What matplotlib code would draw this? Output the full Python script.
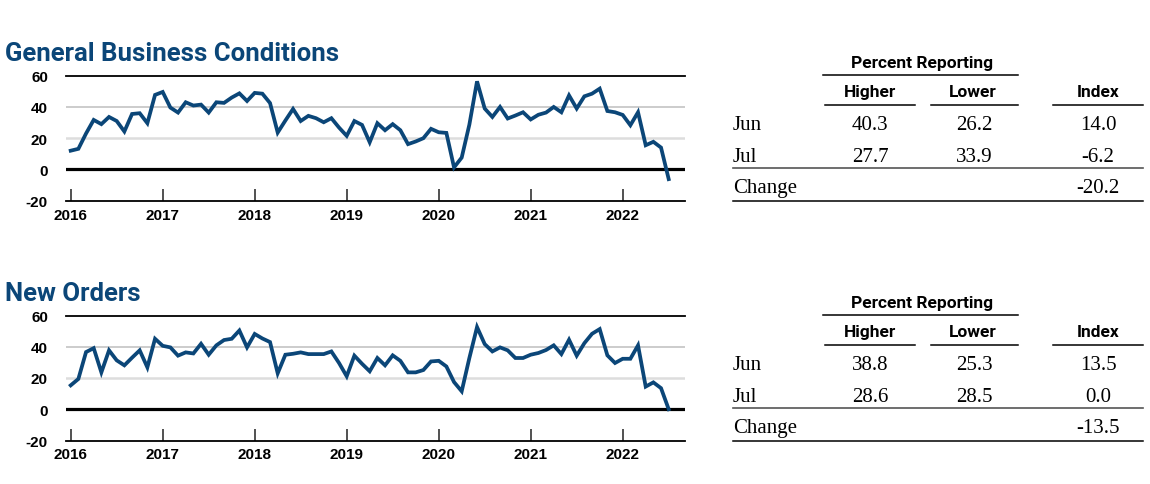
import numpy as np
import matplotlib
matplotlib.use('Agg')
import matplotlib.pyplot as plt
from matplotlib import font_manager
from matplotlib.lines import Line2D

# monthly index values, Jan 2016 - Jul 2022
general_business = [
    12.0, 13.2, 23.0, 31.7, 29.0, 33.6, 31.0, 24.3, 35.5, 36.0, 29.6, 47.7,
    49.6, 39.6, 36.4, 43.0, 40.9, 41.5, 36.4, 43.0, 42.6, 46.0, 48.7, 43.8,
    49.0, 48.5, 42.5, 23.6, 31.3, 38.7, 31.0, 34.3, 32.8, 30.2, 32.8, 26.8,
    21.5, 31.0, 28.5, 17.4, 29.6, 25.1, 29.0, 25.1, 16.2, 17.9, 20.0, 26.0,
    23.8, 23.4, 1.3, 7.6, 28.7, 56.4, 39.0, 33.6, 40.0, 32.6, 34.5, 36.6,
    32.0, 35.0, 36.4, 40.0, 36.6, 47.4, 39.0, 46.8, 48.5, 51.7, 37.4, 36.6,
    34.9, 28.3, 36.6, 15.5, 17.7, 14.0, -6.2,
]
new_orders = [
    15.3, 19.4, 36.6, 39.1, 23.6, 37.7, 31.3, 28.1, 33.0, 37.7, 26.8, 45.1,
    40.6, 39.6, 34.3, 36.4, 35.7, 41.9, 34.9, 40.9, 44.3, 45.1, 50.4, 39.6,
    48.2, 45.3, 43.0, 23.0, 34.9, 35.5, 36.4, 35.3, 35.3, 35.3, 37.0, 29.6,
    21.1, 34.3, 29.1, 24.3, 32.8, 28.1, 34.5, 31.0, 23.6, 23.6, 25.1, 30.6,
    31.0, 27.4, 17.4, 11.5, 32.8, 52.6, 41.7, 37.0, 39.6, 37.7, 32.8, 32.8,
    34.9, 36.0, 37.9, 40.9, 35.3, 44.5, 34.3, 42.3, 48.3, 51.3, 34.5, 29.6,
    32.3, 32.3, 40.9, 14.5, 17.2, 13.5, 0.0,
]
start_year = 2016
year_ticks = [2016, 2017, 2018, 2019, 2020, 2021, 2022]
y_ticks = [-20, 0, 20, 40, 60]

# table values
row_labels = ['Jun', 'Jul', 'Change']
gbc_higher = ['40.3', '27.7']
gbc_lower = ['26.2', '33.9']
gbc_index = ['14.0', '-6.2', '-20.2']
no_higher = ['38.8', '28.6']
no_lower = ['25.3', '28.5']
no_index = ['13.5', '0.0', '-13.5']

W, H = 1150, 485
BLUE = '#0b4678'

installed = {f.name for f in font_manager.fontManager.ttflist}
if 'Liberation Sans Narrow' in installed:
    narrow = 'Liberation Sans Narrow'
    title_size, head_size = 21, 14
else:
    narrow = 'Roboto'
    title_size, head_size = 18.5, 12.5
sans = 'Liberation Sans'
serif = 'Liberation Serif'

fig = plt.figure(figsize=(W / 100, H / 100), dpi=100)


def px(x, y):
    # pixel position -> figure fraction
    return x / W, 1 - y / H


def hline(x0, x1, y, color='black', lw=1.0):
    (a, b), (c, _) = px(x0, y), px(x1, y)
    fig.add_artist(Line2D([a, c], [b, b], color=color, lw=lw, transform=fig.transFigure))


def draw_chart(values, top_px, title, title_base):
    left, right = 66, 685
    bottom = top_px + 125
    ax = fig.add_axes([left / W, 1 - bottom / H, (right - left) / W, 125 / H])
    x = start_year + np.arange(len(values)) / 12.0
    ax.axhline(40, color='#c4c4c4', lw=1.2, zorder=1)
    ax.axhline(20, color='#dddddd', lw=1.8, zorder=1)
    ax.axhline(0, color='black', lw=2.3, zorder=2)
    ax.plot(x, values, color=BLUE, lw=2.7, solid_joinstyle='miter', zorder=3, clip_on=False)
    ax.set_xlim(start_year - 4.7 / 92, start_year + (right - 70.7) / 92)
    ax.set_ylim(-20, 60)
    for s in ['left', 'right']:
        ax.spines[s].set_visible(False)
    ax.spines['top'].set_linewidth(1.3)
    ax.spines['bottom'].set_linewidth(1.3)
    ax.set_xticks(year_ticks)
    ax.set_xticklabels([str(y) for y in year_ticks], fontfamily=sans, fontweight='bold', fontsize=11)
    ax.set_yticks(y_ticks)
    ax.set_yticklabels([str(v) for v in y_ticks], fontfamily=sans, fontweight='bold', fontsize=11)
    ax.tick_params(axis='x', direction='in', length=9, width=1.2, color='#333333', pad=5)
    ax.tick_params(axis='y', length=0, pad=13)
    ax.set_facecolor('none')
    tx, ty = px(5, title_base)
    fig.text(tx, ty, title, fontfamily=narrow, fontweight='bold', fontsize=title_size,
             color=BLUE, ha='left', va='baseline')


def draw_table(off, higher, lower, index):
    def t(x, y, s, **kw):
        a, b = px(x, y + off)
        fig.text(a, b, s, ha='center', va='baseline', **kw)

    head = dict(fontfamily=narrow, fontweight='bold', fontsize=head_size, color='black')
    body = dict(fontfamily=serif, fontsize=15, color='black')
    t(922, 68.3, 'Percent Reporting', **head)
    hline(823, 1018, 75.7 + off, lw=1.1)
    t(870, 96.7, 'Higher', **head)
    t(973, 96.7, 'Lower', **head)
    t(1098, 96.7, 'Index', **head)
    hline(825, 915, 105.7 + off, lw=1.1)
    hline(931, 1018, 105.7 + off, lw=1.1)
    hline(1053, 1143, 105.7 + off, lw=1.1)
    bases = [130, 161.7, 193.3]
    for i, lab in enumerate(row_labels):
        a, b = px(733, bases[i] + off)
        fig.text(a, b, lab, ha='left', va='baseline', **body)
        if i < 2:
            t(870, bases[i], higher[i], **body)
            t(974, bases[i], lower[i], **body)
        t(1098, bases[i], index[i], **body)
    hline(733, 1143, 169 + off, color='#555555', lw=1.2)
    hline(733, 1143, 202 + off, color='black', lw=1.1)


draw_chart(general_business, 76.7, 'General Business Conditions', 61)
draw_chart(new_orders, 316.5, 'New Orders', 301)
draw_table(0, gbc_higher, gbc_lower, gbc_index)
draw_table(240, no_higher, no_lower, no_index)

fig.savefig('out.png', dpi=100, facecolor='white')
